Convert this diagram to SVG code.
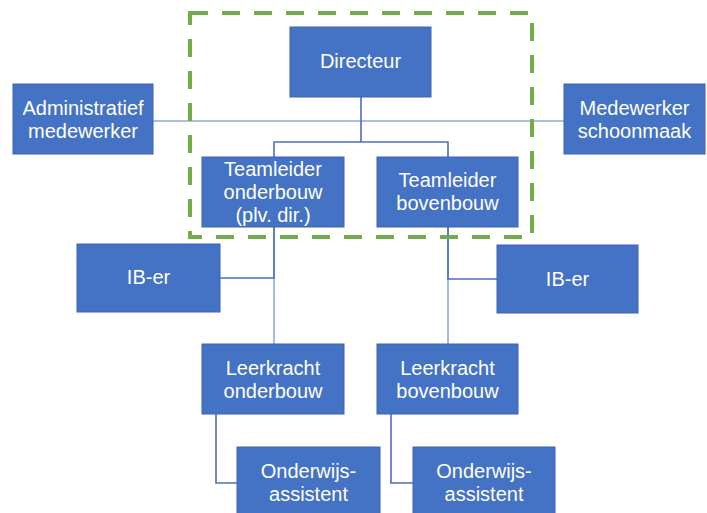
<svg xmlns="http://www.w3.org/2000/svg" width="707" height="513" viewBox="0 0 707 513">
<style>
.box{fill:#4472C4;stroke:#3A65B3;stroke-width:1}
.t{font-family:"Liberation Sans",Arial,sans-serif;font-size:20px;fill:#FFFFFF;text-anchor:middle;dominant-baseline:central}
.dk{fill:none;stroke:#4A6FC0;stroke-width:1.6}
.lt{fill:none;stroke:#8FAADC;stroke-width:1.6}
.grp{fill:none;stroke:#70AD47;stroke-width:4;stroke-dasharray:18 14}
</style>
<rect width="707" height="513" fill="#FFFFFF"/>
<g id="connectors">
<line class="lt" x1="153" y1="121" x2="564" y2="121"/>
<path class="dk" d="M361 97 V142 M274 157 V142 H448 V157"/>
<line class="lt" x1="274" y1="227" x2="274" y2="344"/>
<line class="lt" x1="448" y1="227" x2="448" y2="344"/>
<path class="dk" d="M274 227 V278 H220"/>
<path class="dk" d="M448 227 V279 H497"/>
<path class="dk" d="M216 414 V483 H237"/>
<path class="dk" d="M391 414 V483 H413"/>
</g>
<g id="group-directie"><rect class="grp" x="190" y="13" width="342" height="224"/></g>
<g id="directeur"><rect class="box" x="290" y="27" width="141" height="70"/><text class="t" x="360.5" y="61">Directeur</text></g>
<g id="administratief"><rect class="box" x="13" y="84" width="140" height="70"/><text class="t" x="83" y="108">Administratief</text><text class="t" x="83" y="131">medewerker</text></g>
<g id="schoonmaak"><rect class="box" x="564" y="84" width="141" height="70"/><text class="t" x="634.5" y="108">Medewerker</text><text class="t" x="634.5" y="131">schoonmaak</text></g>
<g id="teamleider-onderbouw"><rect class="box" x="202" y="157" width="142" height="70"/><text class="t" x="273" y="169">Teamleider</text><text class="t" x="273" y="192">onderbouw</text><text class="t" x="273" y="215">(plv. dir.)</text></g>
<g id="teamleider-bovenbouw"><rect class="box" x="377" y="157" width="141" height="70"/><text class="t" x="447.5" y="180">Teamleider</text><text class="t" x="447.5" y="203">bovenbouw</text></g>
<g id="ib-er-links"><rect class="box" x="77" y="244" width="143" height="68"/><text class="t" x="148.5" y="277">IB-er</text></g>
<g id="ib-er-rechts"><rect class="box" x="497" y="245" width="141" height="68"/><text class="t" x="567.5" y="279">IB-er</text></g>
<g id="leerkracht-onderbouw"><rect class="box" x="202" y="344" width="142" height="70"/><text class="t" x="273" y="368">Leerkracht</text><text class="t" x="273" y="391">onderbouw</text></g>
<g id="leerkracht-bovenbouw"><rect class="box" x="377" y="344" width="141" height="70"/><text class="t" x="447.5" y="368">Leerkracht</text><text class="t" x="447.5" y="391">bovenbouw</text></g>
<g id="onderwijsassistent-links"><rect class="box" x="237" y="447" width="143" height="72"/><text class="t" x="308.5" y="471">Onderwijs-</text><text class="t" x="308.5" y="494">assistent</text></g>
<g id="onderwijsassistent-rechts"><rect class="box" x="413" y="447" width="142" height="72"/><text class="t" x="484" y="471">Onderwijs-</text><text class="t" x="484" y="494">assistent</text></g>
</svg>
